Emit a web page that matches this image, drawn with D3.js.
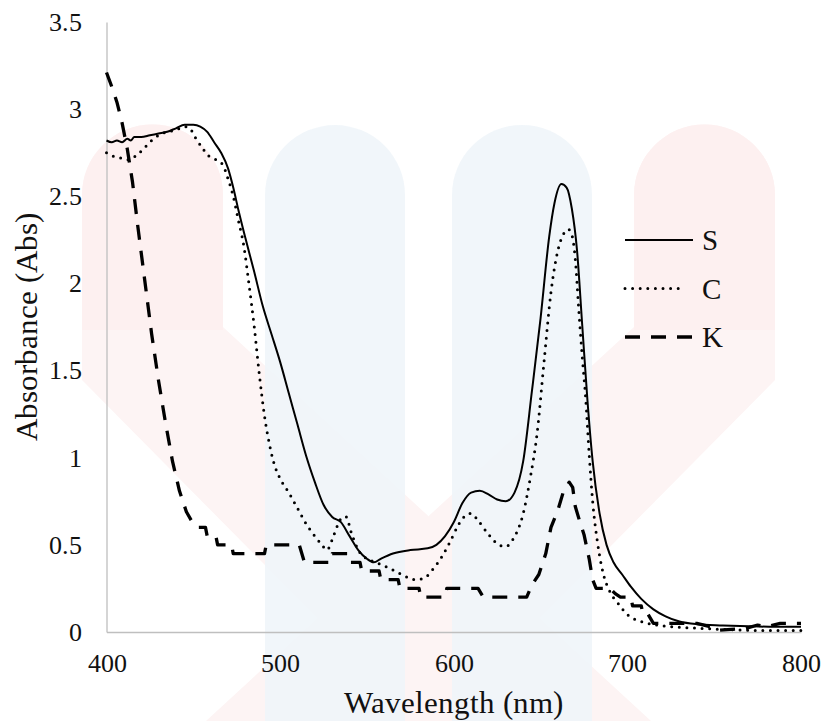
<!DOCTYPE html>
<html>
<head>
<meta charset="utf-8">
<script src="https://cdn.jsdelivr.net/npm/d3@7"></script>
<style>
  @font-face { font-family: "RefSerif"; src: local("Liberation Serif"), local("LiberationSerif"), local("LiberationSerif-Regular"), local("Tinos"), local("Times New Roman"); }
  svg text { font-family: "RefSerif", "Times New Roman", Tinos, "Liberation Serif" !important; }
</style>
</head>
<body style="margin:0">
<div id="c"></div>
<script>
// spectra (wavelength in nm, absorbance in Abs)
const wlS = [400, 403, 406, 409, 412, 414, 416, 420, 425, 430, 435, 440, 445, 450, 454, 458, 462, 466, 470, 473,
  476, 480, 485, 490, 495, 500, 505, 510, 515, 520, 525, 530, 535, 540, 545, 550, 554, 558, 565, 575,
  585, 590, 595, 600, 605, 610, 615, 620, 625, 630, 635, 640, 645, 650, 655, 658, 662, 665, 668, 671,
  674, 677, 680, 684, 688, 692, 697, 702, 708, 715, 722, 730, 740, 755, 770, 785, 800];
const absS = [2.82, 2.81, 2.82, 2.81, 2.83, 2.82, 2.84, 2.84, 2.85, 2.86, 2.87, 2.89, 2.91, 2.91, 2.90, 2.87, 2.81, 2.75, 2.66, 2.55,
  2.42, 2.26, 2.07, 1.87, 1.71, 1.55, 1.37, 1.19, 1.01, 0.86, 0.73, 0.66, 0.63, 0.55, 0.47, 0.42, 0.40, 0.42, 0.45, 0.47,
  0.48, 0.50, 0.55, 0.63, 0.74, 0.80, 0.81, 0.79, 0.76, 0.75, 0.80, 0.98, 1.38, 1.80, 2.27, 2.46, 2.57, 2.55, 2.43, 2.19,
  1.76, 1.33, 0.98, 0.68, 0.50, 0.40, 0.33, 0.26, 0.19, 0.13, 0.09, 0.06, 0.045, 0.038, 0.033, 0.03, 0.03];

const wlC = [400, 404, 408, 412, 415, 418, 422, 426, 430, 435, 440, 445, 448, 451, 455, 459, 463, 467, 470, 473,
  476, 479, 482, 485, 488, 491, 494, 497, 500, 505, 510, 515, 520, 524, 527, 530, 533, 536, 538, 541,
  545, 550, 555, 562, 570, 578, 583, 588, 593, 598, 603, 607, 610, 614, 620, 626, 630, 634, 640, 644,
  648, 652, 656, 660, 663, 666, 668, 670, 672, 674, 676, 678, 680, 683, 686, 690, 695, 700, 708, 720,
  740, 760, 780, 800];
const absC = [2.75, 2.73, 2.72, 2.71, 2.72, 2.74, 2.78, 2.82, 2.85, 2.87, 2.88, 2.90, 2.89, 2.84, 2.78, 2.73, 2.71, 2.68, 2.60, 2.50,
  2.36, 2.22, 2.00, 1.76, 1.48, 1.24, 1.07, 0.95, 0.88, 0.80, 0.71, 0.62, 0.55, 0.50, 0.47, 0.53, 0.61, 0.66, 0.66, 0.57,
  0.47, 0.42, 0.40, 0.37, 0.33, 0.30, 0.31, 0.36, 0.43, 0.52, 0.62, 0.67, 0.68, 0.64, 0.56, 0.50, 0.49, 0.53, 0.68, 0.88,
  1.14, 1.55, 1.95, 2.19, 2.28, 2.31, 2.28, 2.14, 1.85, 1.58, 1.34, 1.02, 0.75, 0.50, 0.34, 0.23, 0.16, 0.10, 0.06, 0.036,
  0.022, 0.013, 0.008, 0.008];

const wlK = [400, 403, 406, 409, 412, 415, 418, 422, 426, 430, 434, 438, 442, 446, 450, 453, 457, 458, 463, 464,
  472, 473, 491, 492, 511, 514, 529, 530, 539, 540, 546, 547, 557, 558, 568, 569, 580, 581, 595, 596,
  614, 617, 642, 645, 649, 653, 656, 660, 663, 666.5, 668.5, 670, 673, 675, 678, 680, 682, 690, 693, 696,
  702, 703, 708, 709, 712, 715, 740, 748, 752, 768, 775, 780, 788, 800];
const absK = [3.21, 3.13, 3.04, 2.92, 2.77, 2.58, 2.33, 2.02, 1.71, 1.44, 1.20, 0.98, 0.81, 0.69, 0.62, 0.60, 0.60, 0.55, 0.55, 0.50,
  0.50, 0.45, 0.45, 0.50, 0.50, 0.40, 0.40, 0.45, 0.45, 0.40, 0.40, 0.35, 0.35, 0.30, 0.30, 0.25, 0.25, 0.20, 0.20, 0.25,
  0.25, 0.20, 0.20, 0.27, 0.33, 0.45, 0.60, 0.70, 0.80, 0.86, 0.83, 0.72, 0.62, 0.56, 0.42, 0.30, 0.25, 0.25, 0.22, 0.20,
  0.20, 0.15, 0.15, 0.10, 0.10, 0.05, 0.05, 0.03, 0.01, 0.02, 0.04, 0.03, 0.05, 0.05];

const seriesNames = ['S', 'C', 'K'];
const xTicks = [400, 500, 600, 700, 800];
const yTicks = [0, 0.5, 1, 1.5, 2, 2.5, 3, 3.5];

const width = 823, height = 721;
const margin = { top: 22, right: 22, bottom: 89, left: 106.5 };
const serif = '"Times New Roman"';

const svg = d3.select('#c')
  .append('svg')
  .attr('width', width)
  .attr('height', height);

// faint logo watermark behind the chart
const wm = svg.append('g');
wm.append('path').attr('fill', '#fdf4f4')
  .attr('d', 'M82,195 A70.5,70.5 0 0 1 223,195 L223,327 L651,721 L421,721 L253,553 L82,380 Z');
wm.append('path').attr('fill', '#fdf4f4')
  .attr('d', 'M634,195 A70.5,70.5 0 0 1 775,195 L775,380 L604,553 L436,721 L206,721 L634,327 Z');
wm.append('path').attr('fill', '#eef4f9').attr('opacity', 0.85)
  .attr('d', 'M265,721 L265,195 A70,70 0 0 1 405,195 L405,721 Z');
wm.append('path').attr('fill', '#eef4f9').attr('opacity', 0.85)
  .attr('d', 'M452,721 L452,195 A70,70 0 0 1 592,195 L592,721 Z');
wm.append('path').attr('fill', '#fdf0f0')
  .attr('d', 'M82,330 L82,195 A70.5,70.5 0 0 1 223,195 L223,330 Z');
wm.append('path').attr('fill', '#fdf0f0')
  .attr('d', 'M634,330 L634,195 A70.5,70.5 0 0 1 775,195 L775,330 Z');

const x = d3.scaleLinear()
  .domain([400, 800])
  .range([margin.left, width - margin.right]);

const y = d3.scaleLinear()
  .domain([0, 3.5])
  .range([height - margin.bottom, margin.top]);

const xAxis = svg.append('g')
  .attr('transform', `translate(0, ${height - margin.bottom})`)
  .call(d3.axisBottom(x).tickValues(xTicks).tickSize(0).tickSizeOuter(0).tickPadding(21.5).tickFormat(d => String(d)));

const yAxis = svg.append('g')
  .attr('transform', `translate(${margin.left}, 0)`)
  .call(d3.axisLeft(y).tickValues(yTicks).tickSize(0).tickSizeOuter(0).tickPadding(24.5).tickFormat(d => String(d)));

[xAxis, yAxis].forEach(a => {
  a.attr('font-family', null).attr('font-size', 26);
  a.select('.domain').attr('stroke', '#bfbfbf').attr('stroke-width', 1.3);
  a.selectAll('text')
    .style('font-family', serif)
    .attr('font-size', 26)
    .attr('fill', '#111');
});

// axis titles
svg.append('text')
  .attr('x', (margin.left + width - margin.right) / 2)
  .attr('y', 713)
  .attr('text-anchor', 'middle')
  .style('font-family', serif)
  .attr('font-size', 31)
  .attr('fill', '#111')
  .text('Wavelength (nm)');

svg.append('text')
  .attr('transform', `translate(37, ${(margin.top + height - margin.bottom) / 2}) rotate(-90)`)
  .attr('text-anchor', 'middle')
  .style('font-family', serif)
  .attr('font-size', 31)
  .attr('fill', '#111')
  .text('Absorbance (Abs)');

const styles = {
  S: { width: 2, dash: null, cap: 'butt' },
  C: { width: 3, dash: '0 7.6', cap: 'round' },
  K: { width: 3.3, dash: '15 11', cap: 'butt' }
};

const series = [
  { name: 'S', values: d3.zip(wlS, absS), curve: d3.curveMonotoneX },
  { name: 'C', values: d3.zip(wlC, absC), curve: d3.curveMonotoneX },
  { name: 'K', values: d3.zip(wlK, absK), curve: d3.curveLinear }
];

series.forEach(s => {
  const line = d3.line()
    .x(d => x(d[0]))
    .y(d => y(d[1]))
    .curve(s.curve);
  const st = styles[s.name];
  svg.append('path')
    .datum(s.values)
    .attr('fill', 'none')
    .attr('stroke', '#000')
    .attr('stroke-width', st.width)
    .attr('stroke-linecap', st.cap)
    .attr('stroke-linejoin', 'round')
    .attr('stroke-dasharray', st.dash)
    .attr('d', line);
});

// legend
const legend = svg.append('g');
seriesNames.forEach((name, i) => {
  const st = styles[name];
  const ly = 240 + i * 48.5;
  legend.append('line')
    .attr('x1', 625).attr('x2', name === 'C' ? 683 : 693)
    .attr('y1', ly).attr('y2', ly)
    .attr('stroke', '#000')
    .attr('stroke-width', st.width)
    .attr('stroke-linecap', st.cap)
    .attr('stroke-dasharray', st.dash);
  legend.append('text')
    .attr('x', 702)
    .attr('y', ly + 10)
    .style('font-family', serif)
    .attr('font-size', 29)
    .attr('fill', '#111')
    .text(name);
});
</script>
</body>
</html>
